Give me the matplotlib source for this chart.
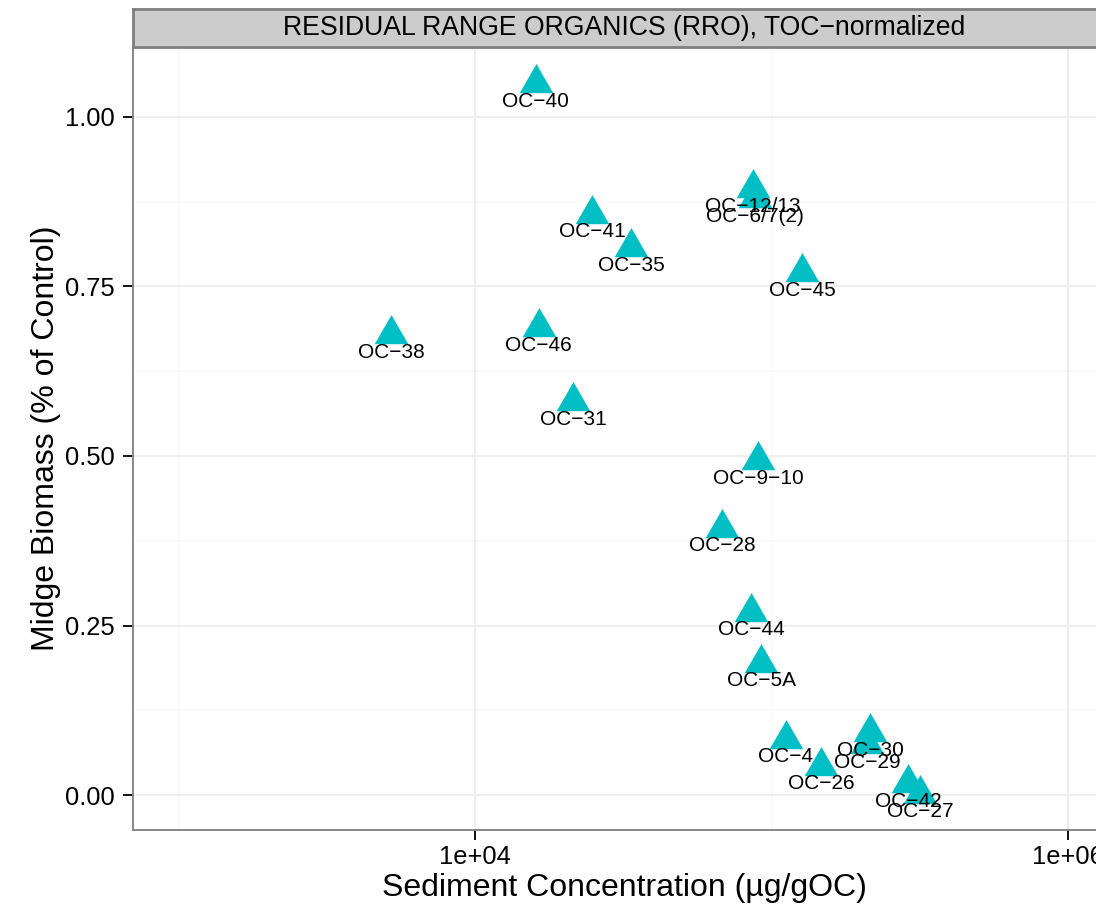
import numpy as np
import matplotlib
matplotlib.use('Agg')
import matplotlib.pyplot as plt
from matplotlib.ticker import FixedLocator, NullLocator

plt.rcParams['font.family'] = ['Liberation Sans', 'DejaVu Sans']

# sample sites, sediment concentration (ug/gOC) and midge biomass
sites = ['OC−40', 'OC−12/13', 'OC−6/7(2)', 'OC−41', 'OC−35', 'OC−45', 'OC−38',
         'OC−46', 'OC−31', 'OC−9−10', 'OC−28', 'OC−44', 'OC−5A', 'OC−4',
         'OC−26', 'OC−30', 'OC−29', 'OC−42', 'OC−27']
conc = [16000, 86600, 88000, 24800, 33600, 126700, 5210,
        16400, 21400, 90000, 68100, 85300, 92200, 111900,
        146900, 214900, 210000, 288700, 316800]
biomass = [1.050, 0.895, 0.880, 0.857, 0.808, 0.771, 0.680,
           0.690, 0.581, 0.494, 0.394, 0.270, 0.195, 0.083,
           0.043, 0.093, 0.075, 0.017, 0.002]

yticks = [0.0, 0.25, 0.5, 0.75, 1.0]
ylabs = ['0.00', '0.25', '0.50', '0.75', '1.00']
xticks = [1e4, 1e6]
xlabs = ['1e+04', '1e+06']

W, H = 1096, 914
fig = plt.figure(figsize=(W / 100, H / 100), dpi=100)

# panel goes past the right edge (cropped facet)
left, right, top, bottom, strip_top = 133, 1115, 47, 830, 9
ax = fig.add_axes([left / W, (H - bottom) / H, (right - left) / W, (bottom - top) / H])
ax.set_xscale('log')
ax.set_xlim(10 ** 2.8465, 10 ** 6.1585)
ax.set_ylim(-0.0516, 1.1032)

# grid
for v in [1e3, 1e5]:
    ax.axvline(v, color='#FAFAFA', lw=1.2, zorder=0)
for v in [0.125, 0.375, 0.625, 0.875]:
    ax.axhline(v, color='#FAFAFA', lw=1.2, zorder=0)
for v in xticks:
    ax.axvline(v, color='#EBEBEB', lw=1.2, zorder=0)
for v in yticks:
    ax.axhline(v, color='#EBEBEB', lw=1.2, zorder=0)

tri = [(0, 1.0), (-0.866, -0.5), (0.866, -0.5)]
ax.scatter(conc, biomass, marker=tri, s=28 ** 2, color='#00BFC4', linewidths=0, zorder=3)
for s, xv, yv in zip(sites, conc, biomass):
    ax.annotate(s, (xv, yv), xytext=(0, -13), textcoords='offset points',
                ha='center', va='center', fontsize=15, color='black', zorder=4)

ax.xaxis.set_major_locator(FixedLocator(xticks))
ax.xaxis.set_minor_locator(NullLocator())
ax.set_xticklabels(xlabs)
ax.set_yticks(yticks)
ax.set_yticklabels(ylabs)
ax.tick_params(axis='both', direction='out', length=7, width=1.3, color='black',
               labelsize=18.4, labelcolor='black')
ax.tick_params(axis='x', pad=4)
ax.tick_params(axis='y', pad=6)
for sp in ax.spines.values():
    sp.set_color('#7F7F7F')
    sp.set_linewidth(1.3)

ax.set_xlabel('Sediment Concentration (µg/gOC)', fontsize=23, labelpad=3)
ax.set_ylabel('Midge Biomass (% of Control)', fontsize=23, labelpad=3)

# facet strip
sax = fig.add_axes([left / W, (H - top) / H, (right - left) / W, (top - strip_top) / H])
sax.set_facecolor('#CCCCCC')
sax.set_xticks([])
sax.set_yticks([])
for sp in sax.spines.values():
    sp.set_color('#7F7F7F')
    sp.set_linewidth(2)
sax.text(0.5, 0.5, 'RESIDUAL RANGE ORGANICS (RRO), TOC−normalized',
         ha='center', va='center', fontsize=19.2, transform=sax.transAxes)

fig.savefig('out.png', dpi=100)
